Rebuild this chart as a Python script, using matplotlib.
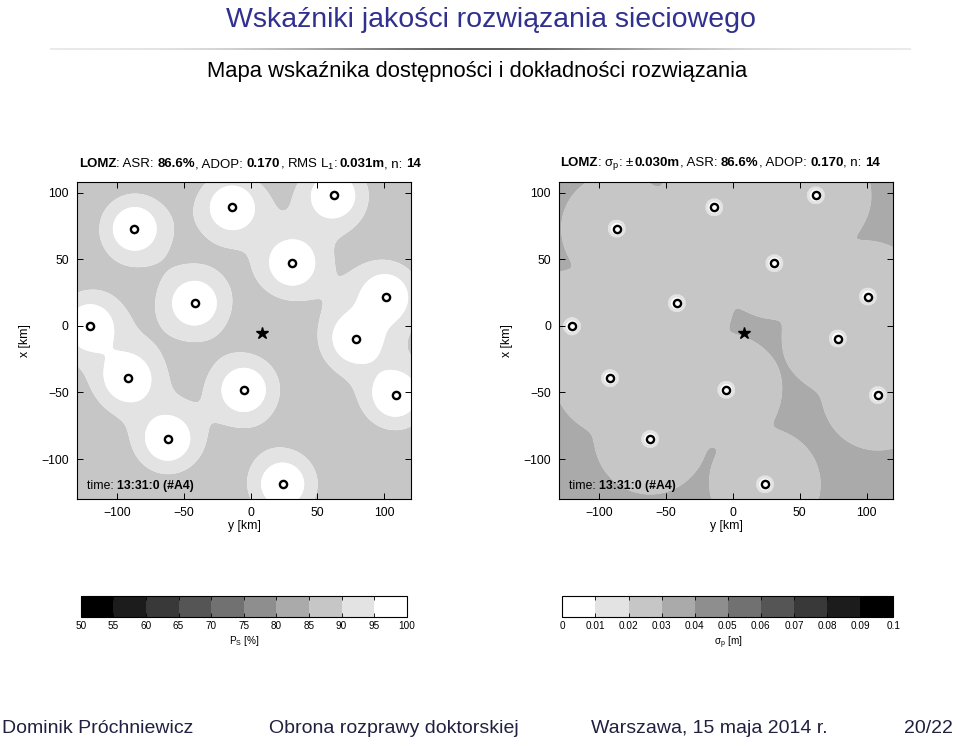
import numpy as np
import matplotlib
matplotlib.use("Agg")
import matplotlib.pyplot as plt
from matplotlib.colors import ListedColormap, BoundaryNorm
from matplotlib.offsetbox import TextArea, HPacker, AnchoredOffsetbox
import matplotlib.cm as cm

# ---------------- data ----------------
# station positions: y (easting, horizontal) and x (northing, vertical) in km
station_y = [-87, -14, 62, 31, -42, -120.5, 101, 78.5, -92, -5, 108.5, -62, 24]
station_x = [73, 89, 98, 47, 17, -0.3, 22, -9.5, -39.3, -48, -52, -85, -119]
rover_y = [8.5]
rover_x = [-5.3]

ticks_km = [-100, -50, 0, 50, 100]
ps_levels = [50, 55, 60, 65, 70, 75, 80, 85, 90, 95, 100]
sigma_levels = [0, 0.01, 0.02, 0.03, 0.04, 0.05, 0.06, 0.07, 0.08, 0.09, 0.1]
ps_ticklabels = ["50", "55", "60", "65", "70", "75", "80", "85", "90", "95", "100"]
sigma_ticklabels = ["0", "0.01", "0.02", "0.03", "0.04", "0.05", "0.06", "0.07", "0.08", "0.09", "0.1"]

station_name = "LOMZ"
asr = "86.6%"
adop = "0.170"
rms_l1 = "0.031m"
sigma_p = "0.030m"
n_sat = "14"
epoch = "13:31:0 (#A4)"

# ---------------- style ----------------
plt.rcParams["font.family"] = ["Liberation Sans", "DejaVu Sans"]
plt.rcParams["mathtext.fontset"] = "custom"
plt.rcParams["mathtext.rm"] = "Liberation Sans"
plt.rcParams["mathtext.bf"] = "Liberation Sans:bold"
plt.rcParams["mathtext.it"] = "Liberation Sans:italic"
plt.rcParams["mathtext.sf"] = "Liberation Sans"
plt.rcParams["mathtext.default"] = "regular"

W, H = 960, 743
fig = plt.figure(figsize=(W / 100, H / 100), dpi=100)
fig.patch.set_facecolor("white")

def fx(px):
    return px / W

def fy(py):
    return 1 - py / H

def rich(parts, fs):
    kids = [TextArea(s, textprops=dict(fontsize=fs, fontweight="bold" if b else "normal"))
            for s, b in parts]
    return HPacker(children=kids, align="baseline", pad=0, sep=0)

def place(box, xy, transform, loc):
    return AnchoredOffsetbox(loc=loc, child=box, bbox_to_anchor=xy, bbox_transform=transform,
                             frameon=False, pad=0, borderpad=0)

g = np.linspace(0, 1, 10)
gray10 = ListedColormap([(v, v, v) for v in g])
gray10_r = ListedColormap([(v, v, v) for v in g[::-1]])
ps_norm = BoundaryNorm(ps_levels, 10)
sig_norm = BoundaryNorm(sigma_levels, 10)

# ---------------- fields derived from station geometry ----------------
gy = np.linspace(-130, 120, 501)
gx = np.linspace(-130, 108, 477)
YY, XX = np.meshgrid(gy, gx)
sy = np.array(station_y)
sx = np.array(station_x)
dist = np.sqrt((YY[..., None] - sy) ** 2 + (XX[..., None] - sx) ** 2) + 1e-6
r0 = 12.0
S = np.exp(-dist / r0).sum(-1)
a_w, b_l = np.exp(-16 / r0), np.exp(-26 / r0)
m = np.log(np.log(3) / np.log(1.5)) / np.log(a_w / b_l)
s1 = a_w / np.log(3) ** (1 / m)
P = 100 - 15 * np.exp(-(S / s1) ** m)
D = (np.sum(dist ** -10.0, -1)) ** (-1 / 10.0)
SIG = np.interp(D, [0, 4.5, 6.5, 41.5, 150], [0.0, 0.01, 0.02, 0.03, 0.045])

ax_w, ax_h = 334, 317
axL = fig.add_axes([fx(77), fy(499), fx(ax_w), ax_h / H])
axR = fig.add_axes([fx(559.3), fy(499), fx(ax_w), ax_h / H])

axL.contourf(YY, XX, P, levels=ps_levels, cmap=gray10, norm=ps_norm, antialiased=True)
axR.contourf(YY, XX, SIG, levels=sigma_levels, cmap=gray10_r, norm=sig_norm, antialiased=True)

for ax in (axL, axR):
    ax.plot(station_y, station_x, "o", ms=5.2, mew=1.7, mec="black", mfc="white", zorder=5)
    ax.plot(rover_y, rover_x, "*", ms=9, color="black", zorder=6)
    ax.set_xlim(-130, 120)
    ax.set_ylim(-130, 108)
    ax.set_xticks(ticks_km)
    ax.set_yticks(ticks_km)
    ax.tick_params(direction="in", top=True, right=True, length=4, width=0.7,
                   labelsize=8.8, pad=6)
    for s in ax.spines.values():
        s.set_linewidth(0.8)
    ax.set_xlabel("y [km]", fontsize=8.8)
    ax.set_ylabel("x [km]", fontsize=8.8)
    ax.xaxis.set_label_coords(0.5, -0.066)
    ax.yaxis.set_label_coords(-0.138, 0.5)
    tb = rich([("time: ", False), (epoch, True)], 8.8)
    a = place(tb, (0.03, 0.042), ax.transAxes, "center left")
    a.set_zorder(7)
    ax.add_artist(a)

partsL = [(station_name, True), (": ASR: ", False), (asr, True), (", ADOP: ", False),
          (adop, True), (", RMS L$_1$: ", False), (rms_l1, True), (", n: ", False), (n_sat, True)]
partsR = [(station_name, True), (r": $\sigma_\mathrm{p}$: ±", False), (sigma_p, True),
          (", ASR: ", False), (asr, True), (", ADOP: ", False), (adop, True),
          (", n: ", False), (n_sat, True)]
fig.add_artist(place(rich(partsL, 9.5), (fx(250), fy(164)), fig.transFigure, "center"))
fig.add_artist(place(rich(partsR, 9.5), (fx(720), fy(164)), fig.transFigure, "center"))

# ---------------- colorbars ----------------
caxL = fig.add_axes([fx(80.7), fy(616.7), fx(326), 20.7 / H])
caxR = fig.add_axes([fx(562.3), fy(616.7), fx(331), 20.7 / H])
cbL = fig.colorbar(cm.ScalarMappable(norm=ps_norm, cmap=gray10), cax=caxL,
                   orientation="horizontal", ticks=ps_levels)
cbR = fig.colorbar(cm.ScalarMappable(norm=sig_norm, cmap=gray10_r), cax=caxR,
                   orientation="horizontal", ticks=sigma_levels)
cbL.ax.set_xticklabels(ps_ticklabels)
cbR.ax.set_xticklabels(sigma_ticklabels)
for cb, lab in ((cbL, r"P$_\mathrm{S}$ [%]"), (cbR, r"$\sigma_\mathrm{p}$ [m]")):
    cb.outline.set_linewidth(0.8)
    cb.ax.tick_params(direction="in", top=True, bottom=True, length=3, width=0.6,
                      labelsize=7.2, pad=3)
    cb.ax.set_xlabel(lab, fontsize=7.2)
    cb.ax.xaxis.set_label_coords(0.5, -0.85)

# ---------------- slide decorations ----------------
fig.text(fx(491), fy(27), "Wskaźniki jakości rozwiązania sieciowego", ha="center",
         va="baseline", fontsize=20.5, color="#30308f")
fig.text(fx(477), fy(77), "Mapa wskaźnika dostępności i dokładności rozwiązania",
         ha="center", va="baseline", fontsize=15.8, color="black")

rule = fig.add_axes([fx(50), fy(50), fx(860), 2 / H])
t = np.linspace(-1, 1, 400)
prof = 0.92 - 0.55 * np.exp(-(t / 0.45) ** 2)
rule.imshow(prof[None, :], cmap="gray", vmin=0, vmax=1, aspect="auto")
rule.set_axis_off()

foot = [("Dominik Próchniewicz", 2, "left"), ("Obrona rozprawy doktorskiej", 393.5, "center"),
        ("Warszawa, 15 maja 2014 r.", 709.5, "center"), ("20/22", 953, "right")]
for txt, xx, ha in foot:
    fig.text(fx(xx), fy(733), txt, ha=ha, va="baseline", fontsize=14,
             color="#202040")

fig.savefig("out.png", dpi=100, facecolor="white")
